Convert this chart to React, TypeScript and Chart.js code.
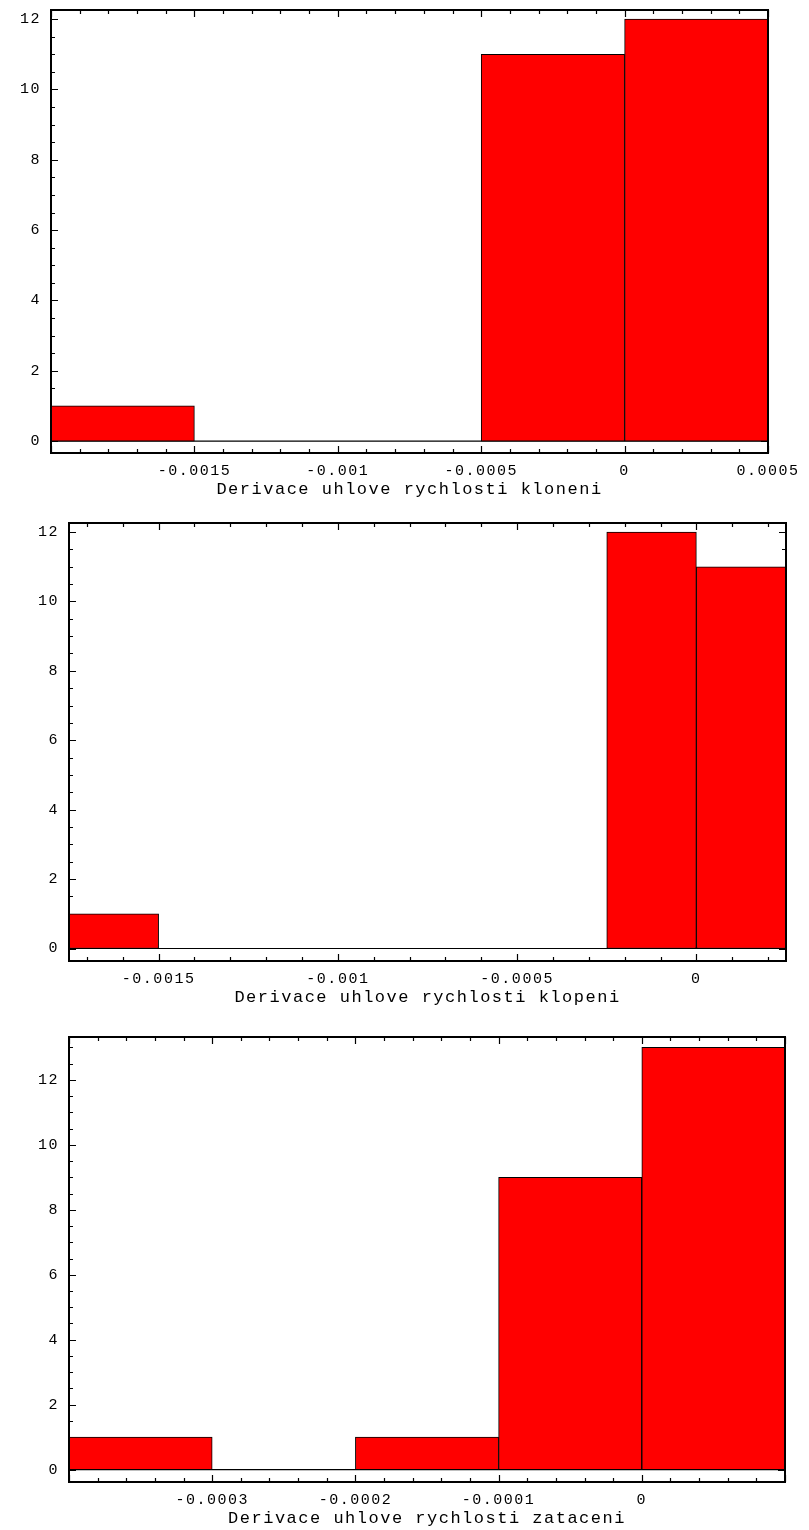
import React, { useEffect, useRef } from 'react';
import { Chart, registerables } from 'chart.js';

Chart.register(...registerables);

// ---------- Data: chart 1 ----------
const binEdges1 = [-0.002, -0.0015, -0.001, -0.0005, 0, 0.0005];
const counts1 = [1, 0, 0, 11, 12];
const xTickValues1 = [-0.0015, -0.001, -0.0005, 0, 0.0005];
const xTickLabels1 = ['-0.0015', '-0.001', '-0.0005', '0', '0.0005'];
const xTitle1 = 'Derivace uhlove rychlosti kloneni';

// ---------- Data: chart 2 ----------
const binEdges2 = [-0.00175, -0.0015, -0.00125, -0.001, -0.00075, -0.0005, -0.00025, 0, 0.00025];
const counts2 = [1, 0, 0, 0, 0, 0, 12, 11];
const xTickValues2 = [-0.0015, -0.001, -0.0005, 0];
const xTickLabels2 = ['-0.0015', '-0.001', '-0.0005', '0'];
const xTitle2 = 'Derivace uhlove rychlosti klopeni';

// ---------- Data: chart 3 ----------
const binEdges3 = [-0.0004, -0.0003, -0.0002, -0.0001, 0, 0.0001];
const counts3 = [1, 0, 1, 9, 13];
const xTickValues3 = [-0.0003, -0.0002, -0.0001, 0];
const xTickLabels3 = ['-0.0003', '-0.0002', '-0.0001', '0'];
const xTitle3 = 'Derivace uhlove rychlosti zataceni';

// ---------- Shared y ticks ----------
const yTickValues = [0, 2, 4, 6, 8, 10, 12];
const yTickLabels = ['0', '2', '4', '6', '8', '10', '12'];

const FONT = "'Liberation Mono', 'DejaVu Sans Mono', monospace";
const TICK_FONT_SIZE = 15;
const TITLE_FONT_SIZE = 17;

type Area = { left: number; top: number; right: number; bottom: number };
type Panel = {
  edges: number[];
  counts: number[];
  xTicks: number[];
  xLabels: string[];
  title: string;
  xMin: number;
  xMax: number;
  yMin: number;
  yMax: number;
  xMinor: number;
  xMajor: number;
  canvasTop: number;
  canvasH: number;
  area: Area;
};

const panels: Panel[] = [
  {
    edges: binEdges1, counts: counts1, xTicks: xTickValues1, xLabels: xTickLabels1, title: xTitle1,
    xMin: -0.002, xMax: 0.0005, yMin: -0.34, yMax: 12.26, xMinor: 0.0001, xMajor: 0.0005,
    canvasTop: 0, canvasH: 505, area: { left: 51, top: 10, right: 768, bottom: 453 },
  },
  {
    edges: binEdges2, counts: counts2, xTicks: xTickValues2, xLabels: xTickLabels2, title: xTitle2,
    xMin: -0.00175, xMax: 0.00025, yMin: -0.36, yMax: 12.26, xMinor: 0.0001, xMajor: 0.0005,
    canvasTop: 510, canvasH: 510, area: { left: 69, top: 523, right: 786, bottom: 961 },
  },
  {
    edges: binEdges3, counts: counts3, xTicks: xTickValues3, xLabels: xTickLabels3, title: xTitle3,
    xMin: -0.0004, xMax: 0.0001, yMin: -0.38, yMax: 13.32, xMinor: 0.00002, xMajor: 0.0001,
    canvasTop: 1025, canvasH: 505, area: { left: 69, top: 1037, right: 785, bottom: 1482 },
  },
];

const framePlugin = {
  id: 'mmaFrame',
  beforeDraw(chart: any) {
    (chart.ctx as any).letterSpacing = '1.5px';
  },
  beforeDatasetsDraw(chart: any, _args: any, opts: any) {
    const { ctx, chartArea: a, scales } = chart;
    const xs = scales.x;
    const ys = scales.y;
    const each = (min: number, max: number, minor: number, major: number, cb: (v: number, len: number) => void) => {
      const k0 = Math.ceil(min / minor - 1e-6);
      const k1 = Math.floor(max / minor + 1e-6);
      for (let k = k0; k <= k1; k++) {
        const v = k * minor;
        const r = v / major;
        const isMajor = Math.abs(r - Math.round(r)) < 1e-6;
        cb(v, isMajor ? 7 : 4);
      }
    };
    ctx.save();
    ctx.strokeStyle = '#000';
    ctx.lineWidth = 1.2;
    ctx.beginPath();
    each(xs.min, xs.max, opts.xMinor, opts.xMajor, (v, len) => {
      const px = Math.round(xs.getPixelForValue(v)) + 0.5;
      ctx.moveTo(px, a.bottom);
      ctx.lineTo(px, a.bottom - len);
      ctx.moveTo(px, a.top);
      ctx.lineTo(px, a.top + len);
    });
    each(ys.min, ys.max, 0.5, 2, (v, len) => {
      const py = Math.round(ys.getPixelForValue(v)) + 0.5;
      ctx.moveTo(a.left, py);
      ctx.lineTo(a.left + len, py);
      ctx.moveTo(a.right, py);
      ctx.lineTo(a.right - len, py);
    });
    ctx.stroke();
    ctx.restore();
  },
  afterDatasetsDraw(chart: any) {
    const { ctx, chartArea: a } = chart;
    ctx.save();
    ctx.strokeStyle = '#000';
    ctx.lineWidth = 2;
    ctx.strokeRect(a.left, a.top, a.right - a.left, a.bottom - a.top);
    ctx.restore();
  },
};

function HistPanel({ p }: { p: Panel }) {
  const ref = useRef<HTMLCanvasElement | null>(null);
  useEffect(() => {
    if (!ref.current) return;
    const W = 809;
    const a = p.area;
    const xScaleH = p.canvasH - (a.bottom - p.canvasTop);
    const titleCenterOffset = 36;
    const titleLH = TITLE_FONT_SIZE * 1.2;
    const titlePadBottom = xScaleH - titleCenterOffset - titleLH / 2;

    const barData = p.counts.map((c, i) => ({ x: (p.edges[i] + p.edges[i + 1]) / 2, y: c }));
    const baseLine = [
      { x: p.edges[0], y: 0 },
      { x: p.edges[p.edges.length - 1], y: 0 },
    ];

    const chart = new Chart(ref.current, {
      type: 'bar',
      data: {
        datasets: [
          {
            type: 'line',
            data: baseLine,
            borderColor: '#000',
            borderWidth: 1.2,
            pointRadius: 0,
            order: 2,
          } as any,
          {
            type: 'bar',
            data: barData,
            backgroundColor: '#ff0000',
            borderColor: '#000',
            borderWidth: 1,
            borderSkipped: false,
            barPercentage: 1,
            categoryPercentage: 1,
            order: 1,
          } as any,
        ],
      },
      options: {
        responsive: false,
        animation: false,
        events: [],
        layout: {
          padding: { top: a.top - p.canvasTop, left: 0, right: W - a.right, bottom: 0 },
        },
        plugins: {
          legend: { display: false },
          tooltip: { enabled: false },
          title: { display: false },
          mmaFrame: { xMinor: p.xMinor, xMajor: p.xMajor },
        } as any,
        scales: {
          x: {
            type: 'linear',
            offset: false,
            min: p.xMin,
            max: p.xMax,
            grid: { display: false, drawTicks: false, offset: false },
            border: { display: false },
            afterBuildTicks: (scale: any) => {
              scale.ticks = p.xTicks.map((v) => ({ value: v }));
            },
            afterFit: (scale: any) => {
              scale.height = xScaleH;
              scale.paddingLeft = 0;
              scale.paddingRight = 0;
              scale.paddingTop = 0;
              scale.paddingBottom = 0;
            },
            ticks: {
              autoSkip: false,
              maxRotation: 0,
              minRotation: 0,
              padding: 9,
              color: '#000',
              font: { family: FONT, size: TICK_FONT_SIZE },
              callback: (_v: any, i: number) => p.xLabels[i],
            },
            title: {
              display: true,
              text: p.title,
              color: '#000',
              font: { family: FONT, size: TITLE_FONT_SIZE },
              padding: { top: 0, bottom: titlePadBottom },
            },
          },
          y: {
            type: 'linear',
            min: p.yMin,
            max: p.yMax,
            grid: { display: false, drawTicks: false },
            border: { display: false },
            afterBuildTicks: (scale: any) => {
              scale.ticks = yTickValues.map((v) => ({ value: v }));
            },
            afterFit: (scale: any) => {
              scale.width = a.left;
              scale.paddingLeft = 0;
              scale.paddingRight = 0;
              scale.paddingTop = 0;
              scale.paddingBottom = 0;
            },
            ticks: {
              autoSkip: false,
              padding: 10,
              color: '#000',
              font: { family: FONT, size: TICK_FONT_SIZE },
              callback: (_v: any, i: number) => yTickLabels[i],
            },
          },
        },
      },
      plugins: [framePlugin as any],
    });
    return () => chart.destroy();
  }, [p]);

  return (
    <canvas
      ref={ref}
      width={809}
      height={p.canvasH}
      style={{ position: 'absolute', left: 0, top: p.canvasTop, width: 809, height: p.canvasH }}
    />
  );
}

export default function App() {
  return (
    <div style={{ position: 'absolute', left: 0, top: 0, width: 809, height: 1530, background: '#fff' }}>
      {panels.map((p, i) => (
        <HistPanel key={i} p={p} />
      ))}
    </div>
  );
}
